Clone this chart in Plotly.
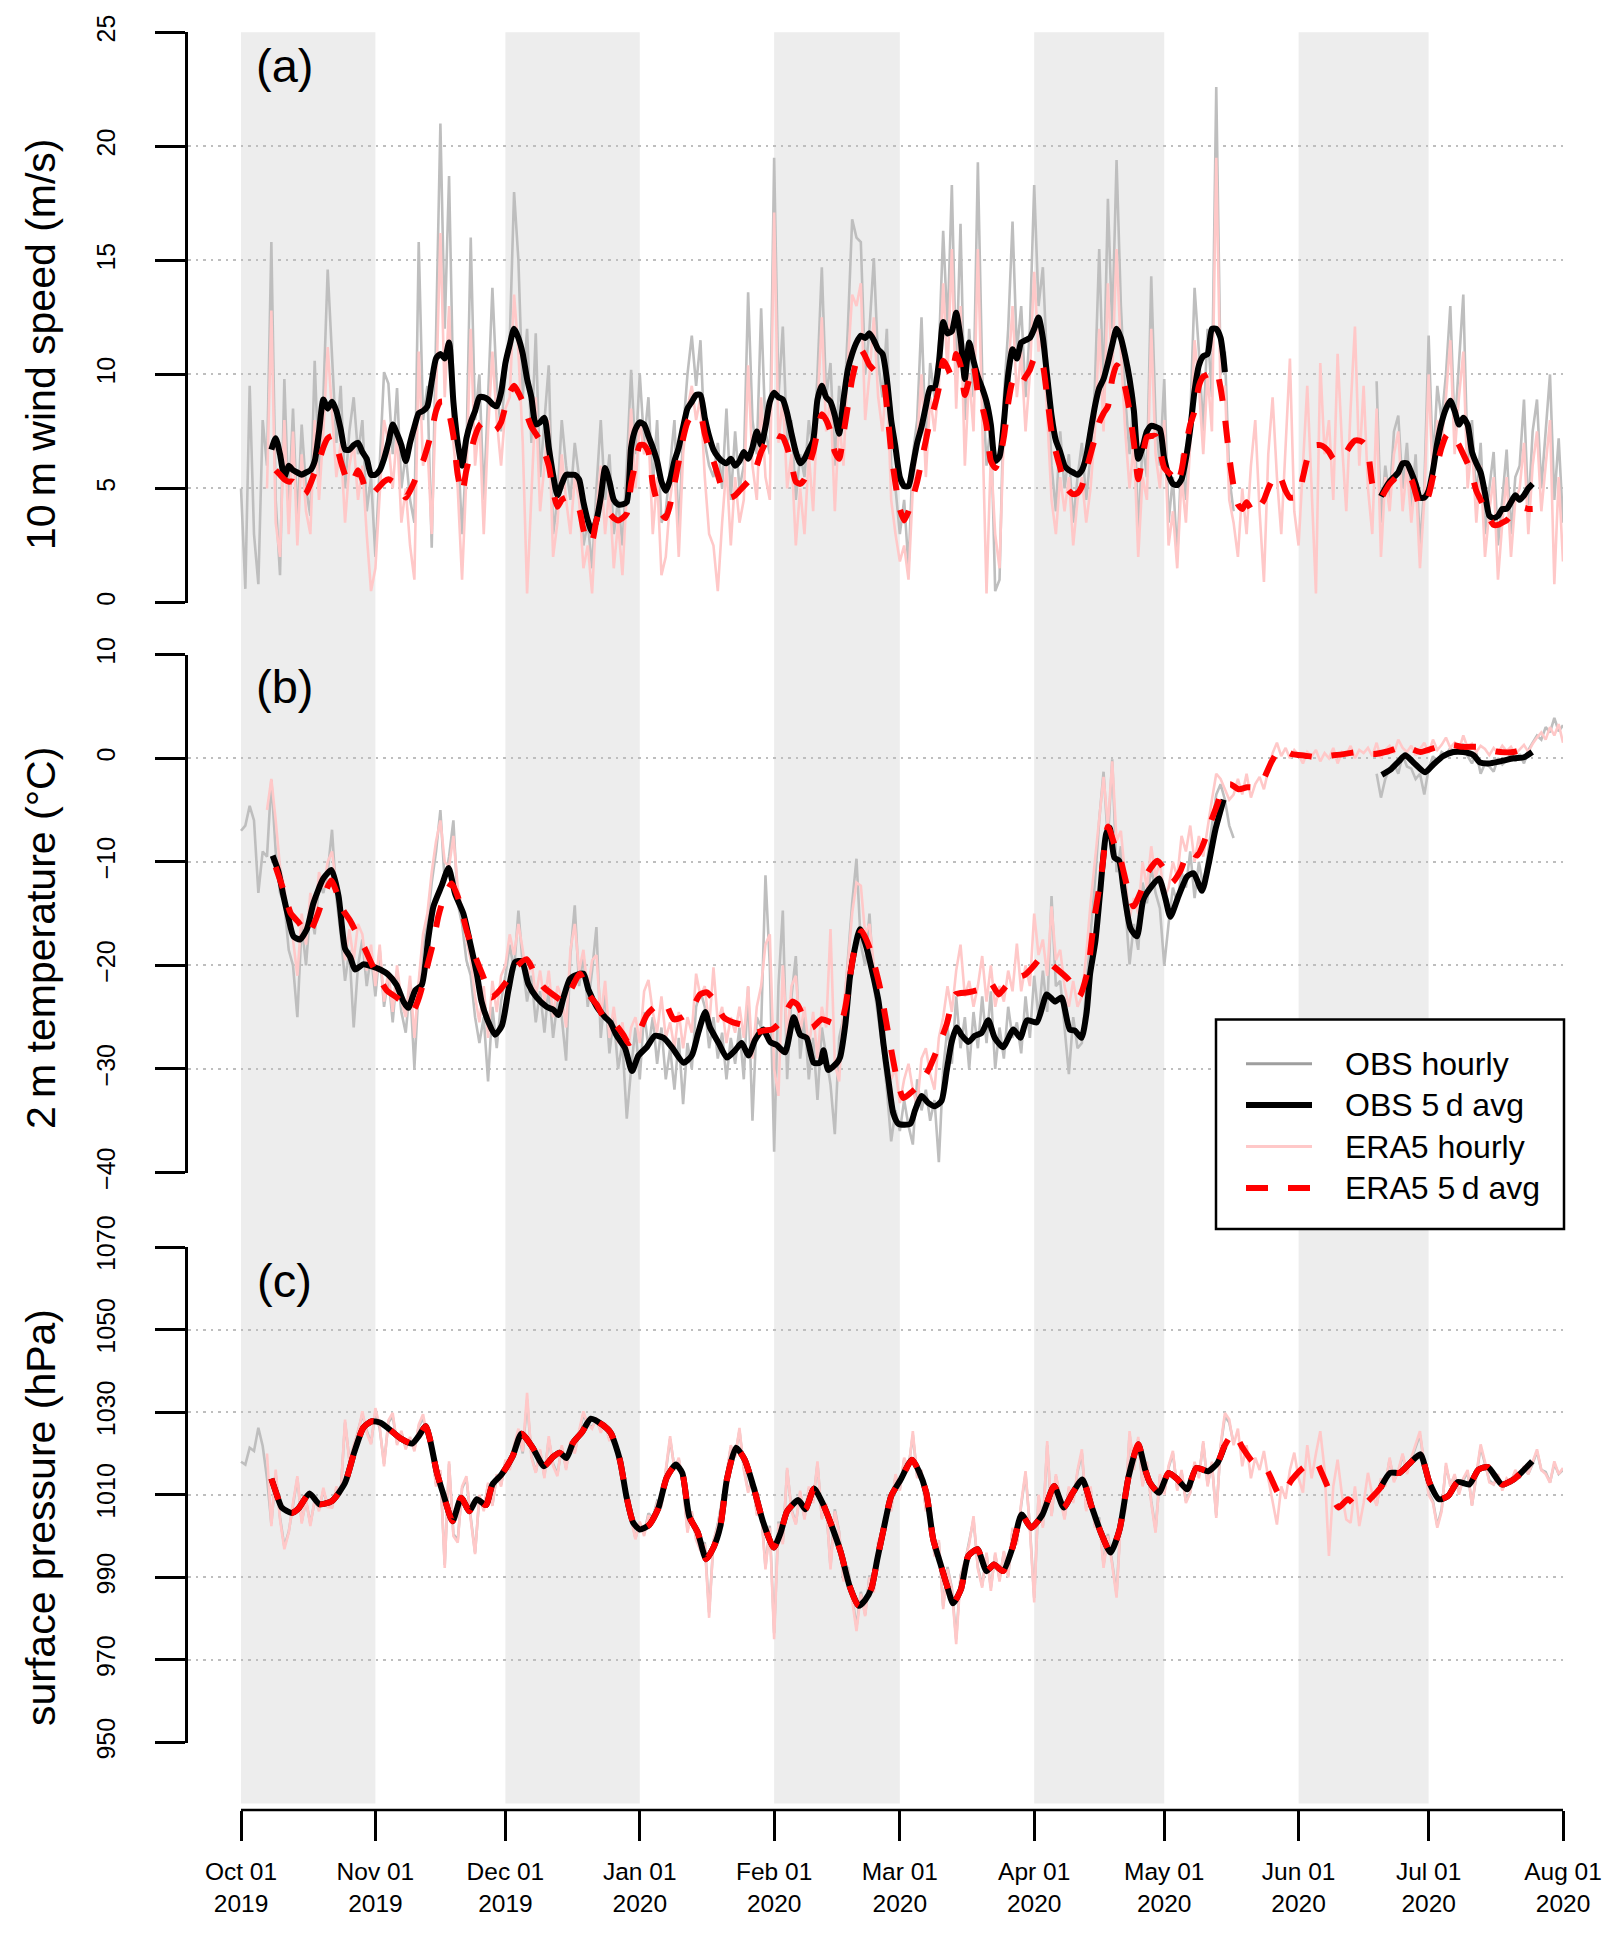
import datetime as dt
import plotly.graph_objects as go

BASE = dt.datetime(2019, 10, 1)

# ---------------- tick / band data ----------------
month_starts = ["2019-10-01", "2019-11-01", "2019-12-01", "2020-01-01", "2020-02-01", "2020-03-01",
                "2020-04-01", "2020-05-01", "2020-06-01", "2020-07-01", "2020-08-01"]
month_labels = ["Oct 01<br>2019", "Nov 01<br>2019", "Dec 01<br>2019", "Jan 01<br>2020", "Feb 01<br>2020",
                "Mar 01<br>2020", "Apr 01<br>2020", "May 01<br>2020", "Jun 01<br>2020", "Jul 01<br>2020",
                "Aug 01<br>2020"]
shaded_months = [("2019-10-01", "2019-11-01"), ("2019-12-01", "2020-01-01"), ("2020-02-01", "2020-03-01"),
                 ("2020-04-01", "2020-05-01"), ("2020-06-01", "2020-07-01")]

ws_ticks = [0, 5, 10, 15, 20, 25]
t2m_ticks = [-40, -30, -20, -10, 0, 10]
sp_ticks = [950, 970, 990, 1010, 1030, 1050, 1070]

# ---------------- (a) 10 m wind speed ----------------
# hourly series sampled once per day (day offset from 2019-10-01)
obs_ws_hr_start1 = 0
obs_ws_hr_1 = [
    5.0, 0.6, 9.5, 3.0, 0.8, 8.0, 6.0, 15.8, 4.5, 1.2,
    9.8, 4.0, 8.5, 3.5, 7.8, 5.0, 3.8, 10.6, 5.5, 9.0,
    14.6, 11.0, 7.0, 9.5, 5.0, 7.5, 9.0, 6.5, 8.0, 4.0,
    5.5, 2.0, 6.0, 10.1, 9.6, 6.5, 9.4, 5.0, 6.5, 4.5,
    3.5, 15.8, 8.0, 9.5, 2.4, 11.0, 21.0, 12.0, 18.7, 9.0,
    7.0, 3.0, 6.5, 16.0, 8.0, 10.0, 4.5, 9.0, 13.8, 9.5,
    7.5, 10.0, 11.5, 18.0, 15.0, 9.0, 12.0, 7.0, 11.8, 5.5,
    8.0, 10.4, 3.0, 4.5, 8.0, 6.0, 4.5, 7.0, 5.5, 2.5,
    3.5, 1.5, 5.0, 8.0, 4.5, 6.5, 3.0, 4.5, 2.5, 6.0,
    10.2, 6.5, 10.0, 7.0, 9.0, 5.0, 8.0, 3.5, 4.0, 6.0,
    8.0, 3.0, 7.5, 10.0, 11.7, 9.5, 11.5, 7.0, 6.0, 5.5,
    7.0, 5.0, 8.5, 4.5, 7.5, 5.0, 6.0, 13.6, 8.0, 6.5,
    12.9, 7.5, 6.5, 19.5, 9.0, 12.1, 7.0, 8.0, 4.5, 6.5,
    5.5, 8.0, 6.5, 10.0, 14.7, 9.0, 10.5, 6.0, 9.5, 8.0,
    12.0, 16.8, 16.0, 15.8, 10.0, 12.0, 15.1, 10.5, 9.0, 12.0,
    6.0, 5.0, 3.0, 4.5, 1.5, 6.5, 8.0, 12.5, 7.0, 10.5,
    9.0, 11.0, 16.3, 12.0, 18.3, 10.0, 16.6, 8.0, 12.0, 9.0,
    19.3, 10.0, 6.0, 8.0, 0.5, 1.0, 9.0, 12.0, 16.7, 11.0,
    13.0, 9.0, 12.0, 18.3, 13.0, 14.7, 10.0, 6.0, 4.0, 7.5,
    5.0, 6.5, 3.5, 5.5, 7.0, 4.5, 6.5, 9.5, 15.5, 9.0,
    17.7, 12.0, 19.4, 13.0, 9.0, 6.5, 9.0, 3.0, 7.0, 5.5,
    14.3, 8.0, 6.0, 9.8, 3.5, 5.5, 2.0, 6.5, 4.5, 8.0,
    13.8, 11.0, 7.5, 12.0, 9.0, 22.6, 10.0, 11.0, 5.5, 4.0]
obs_ws_hr_start2 = 262
obs_ws_hr_2 = [
    9.7, 3.5, 6.0, 4.5, 7.5, 8.2, 5.0, 7.0,
    4.0, 6.5, 2.5, 5.0, 11.7, 6.0, 9.5, 8.0, 10.0, 13.0,
    7.5, 10.5, 13.5, 6.0, 8.0, 4.5, 7.0, 3.0, 5.0, 6.6,
    2.5, 4.5, 6.7, 3.0, 5.5, 6.0, 8.9, 4.0, 7.5, 8.9,
    5.0, 7.5, 10.0, 4.5, 7.2, 3.5]
era5_ws_hr_start = 6
era5_ws_hr = [
    5.0, 12.8, 3.5, 2.0,
    8.0, 3.0, 7.5, 2.5, 6.5, 4.0, 3.0, 8.0, 4.5, 7.5,
    11.2, 8.5, 5.5, 7.0, 3.5, 6.0, 7.0, 4.5, 6.0, 3.0,
    0.5, 1.5, 5.0, 8.0, 7.0, 5.0, 7.5, 3.5, 5.0, 2.5,
    1.0, 11.0, 6.0, 7.0, 3.0, 9.0, 16.2, 9.0, 13.0, 7.0,
    5.0, 1.0, 5.5, 12.0, 6.0, 8.0, 3.0, 7.5, 11.0, 8.0,
    6.0, 8.5, 9.0, 13.5, 11.0, 7.0, 0.4, 5.0, 9.0, 4.0,
    6.0, 8.0, 2.0, 3.5, 6.5, 4.5, 3.0, 5.5, 4.5, 1.5,
    2.5, 0.4, 4.0, 6.0, 3.0, 5.0, 1.5, 3.5, 1.2, 5.0,
    8.5, 5.0, 8.0, 6.5, 7.5, 3.0, 5.5, 1.2, 2.0, 4.5,
    6.0, 2.0, 6.5, 8.5, 9.5, 8.0, 9.0, 5.5, 3.0, 2.5,
    0.5, 3.5, 6.0, 2.5, 5.5, 3.5, 4.5, 10.4, 6.0, 4.5,
    9.0, 5.5, 4.5, 17.1, 7.0, 9.0, 5.0, 6.5, 2.5, 5.0,
    3.0, 6.5, 4.0, 8.5, 12.5, 7.5, 9.0, 4.0, 8.0, 6.0,
    10.5, 13.5, 13.0, 14.0, 8.0, 10.0, 12.5, 9.0, 7.5, 10.0,
    4.5, 3.0, 1.8, 2.5, 1.0, 5.0, 7.0, 10.0, 5.5, 9.0,
    7.5, 9.5, 14.0, 10.0, 15.5, 8.5, 13.0, 6.0, 10.0, 7.5,
    15.5, 8.0, 0.4, 6.5, 3.0, 1.5, 7.5, 10.0, 13.0, 9.0,
    11.0, 7.5, 10.0, 14.5, 11.0, 12.0, 8.0, 4.5, 3.0, 5.5,
    4.0, 5.5, 2.5, 4.5, 5.5, 3.5, 5.0, 7.5, 12.0, 7.5,
    14.0, 10.0, 15.5, 11.0, 7.5, 5.0, 7.0, 2.0, 5.5, 4.5,
    12.0, 6.5, 5.0, 8.0, 2.5, 4.0, 1.5, 5.5, 3.5, 7.0,
    11.5, 9.5, 6.5, 10.0, 7.5, 19.5, 9.0, 9.5, 4.5, 3.5,
    2.0, 5.0, 3.0, 6.0, 8.0, 4.0, 0.9, 6.5, 9.0, 5.5,
    3.0, 7.0, 10.7, 4.0, 2.5, 6.0, 9.5, 5.0, 0.4, 10.5,
    6.5, 8.0, 4.5, 10.9, 7.0, 4.0, 8.5, 12.1, 6.0, 9.5,
    5.0, 3.0, 8.5, 2.0, 5.5, 4.0, 6.5, 7.5, 4.0, 6.0,
    3.5, 5.5, 1.5, 4.5, 10.0, 5.0, 8.0, 7.0, 9.0, 11.5,
    6.5, 9.0, 11.0, 5.0, 7.0, 3.5, 6.0, 2.0, 4.0, 5.5,
    1.0, 3.5, 5.5, 2.0, 4.5, 5.0, 7.0, 3.0, 6.0, 7.5,
    4.0, 6.0, 8.0, 0.8, 5.5, 1.8]
obs_ws_5d_start1 = 7
obs_ws_5d_1 = [
    6.7, 7.2, 6.5, 5.5, 6.0, 5.8, 5.7, 5.6, 5.7, 5.8,
    6.2, 7.5, 8.9, 8.5, 8.8, 8.4, 7.6, 6.7, 6.7, 6.9,
    7.0, 6.6, 6.3, 5.6, 5.6, 5.8, 6.3, 7.0, 7.8, 7.4,
    6.9, 6.2, 7.0, 7.7, 8.3, 8.4, 8.6, 9.7, 10.7, 10.9,
    10.7, 11.4, 8.8, 7.0, 6.0, 7.2, 7.9, 8.4, 9.0, 9.0,
    8.9, 8.7, 8.6, 9.2, 10.5, 11.3, 12.0, 11.6, 10.9, 9.8,
    9.0, 7.8, 7.9, 8.1, 6.8, 5.6, 4.7, 5.2, 5.6, 5.6,
    5.6, 5.4, 4.4, 3.6, 3.1, 3.6, 4.6, 5.9, 5.3, 4.5,
    4.3, 4.3, 4.4, 6.8, 7.6, 7.9, 7.8, 7.3, 6.8, 6.2,
    5.3, 4.9, 5.4, 6.2, 6.8, 7.7, 8.5, 8.8, 9.1, 9.1,
    8.1, 7.3, 6.7, 6.4, 6.2, 6.1, 6.3, 6.0, 6.2, 6.6,
    6.3, 6.8, 7.5, 6.9, 7.7, 8.8, 9.2, 9.0, 8.9, 8.3,
    7.4, 6.6, 6.1, 6.3, 6.7, 7.1, 8.9, 9.5, 9.0, 8.8,
    8.2, 7.4, 8.9, 10.2, 10.9, 11.4, 11.7, 11.6, 11.8, 11.5,
    11.1, 10.9, 9.8, 8.0, 6.8, 5.5, 5.1, 5.1, 6.0, 7.0,
    7.7, 8.6, 9.4, 9.4, 10.5, 12.3, 11.8, 11.9, 12.7, 11.6,
    9.8, 11.4, 10.6, 9.9, 9.4, 8.8, 7.8, 6.2, 6.4, 7.9,
    10.0, 11.1, 10.7, 11.4, 11.5, 11.6, 12.0, 12.5, 11.6, 9.9,
    8.2, 7.1, 6.6, 6.0, 5.8, 5.7, 5.6, 5.8, 6.4, 7.5,
    8.6, 9.4, 9.8, 10.5, 11.3, 12.0, 11.6, 10.8, 9.8, 8.4,
    6.3, 6.8, 7.5, 7.75, 7.7, 7.6, 6.3, 5.6, 5.2, 5.15,
    5.4, 6.3, 7.6, 9.3, 10.4, 10.8, 10.9, 12.0, 12.0, 11.6,
    10.1]
obs_ws_5d_start2 = 263
obs_ws_5d_2 = [
    4.65, 5.0, 5.3, 5.5, 5.7, 6.1, 6.1, 5.7, 5.2, 4.6,
    4.6, 4.9, 5.8, 7.0, 7.9, 8.5, 8.85, 8.4, 7.8, 8.1,
    7.8, 6.6, 6.1, 5.7, 4.8, 3.8, 3.7, 3.8, 4.1, 4.1,
    4.4, 4.7, 4.5, 4.7, 5.0, 5.2]
era5_ws_5d_start = 8
era5_ws_5d = [
    5.8, 5.6,
    5.4, 5.3, 5.3, 5.0, 4.7, 4.8, 5.2, 5.7, 6.2, 6.8,
    7.2, 7.3, 6.9, 6.2, 5.6, 5.2, 5.4, 5.8, 5.4, 4.8,
    4.7, 4.9, 5.1, 5.3, 5.4, 5.3, 5.1, 4.9, 4.6, 4.9,
    5.3, 5.8, 6.2, 6.8, 7.5, 8.4, 8.8, 8.8, 8.3, 7.3,
    5.6, 4.8, 5.8, 6.6, 7.3, 7.75, 7.9, 7.8, 7.5, 7.6,
    7.9, 8.6, 9.2, 9.5, 9.2, 8.8, 8.2, 7.7, 7.4, 7.1,
    6.6, 6.0, 4.9, 4.2, 4.5, 4.6, 4.5, 4.3, 4.1, 3.2,
    2.6, 2.7, 3.6, 4.1, 4.0, 3.9, 3.7, 3.6, 3.7, 3.9,
    5.2, 6.1, 6.9, 6.9, 6.6, 5.2, 4.4, 3.9, 3.7, 4.3,
    5.2, 6.2, 7.2, 7.9, 8.2, 8.2, 8.2, 7.4, 6.7, 6.2,
    5.6, 5.0, 4.7, 4.6, 4.7, 4.9, 5.1, 5.3, 5.5, 6.0,
    6.6, 7.0, 7.4, 7.4, 7.3, 7.25, 6.8, 6.1, 5.3, 5.2,
    5.4, 6.0, 6.6, 7.5, 8.25, 8.0, 7.5, 6.6, 6.3, 7.4,
    8.6, 9.8, 10.6, 11.1, 10.8, 10.4, 10.2, 10.0, 9.9, 8.6,
    6.6, 5.2, 4.1, 3.6, 4.0, 4.6, 5.3, 6.2, 7.1, 8.0,
    8.6, 9.4, 10.6, 10.3, 9.9, 10.9, 10.4, 9.1, 9.8, 10.4,
    9.2, 8.6, 7.75, 6.2, 5.9, 6.3, 7.25, 8.75, 9.7, 9.9,
    9.6, 9.9, 10.2, 10.7, 10.8, 10.4, 9.0, 7.5, 6.6, 5.9,
    5.2, 4.9, 4.75, 4.8, 5.1, 5.8, 6.5, 7.2, 7.9, 8.3,
    8.6, 9.8, 10.4, 10.2, 9.4, 8.4, 7.0, 5.4, 6.4, 7.25,
    7.3, 7.3, 6.7, 5.9, 5.7, 5.5, 5.2, 5.8, 6.9, 7.8,
    8.4, 9.5, 9.9, 10.0, 10.1, 10.2, 9.4, 8.1, 6.4, 5.1,
    4.3, 4.1, 4.4, 4.1, 3.9, 4.2, 4.5, 5.0, 5.4, 5.65,
    5.4, 4.9, 4.6, 4.6, 4.7, 5.5, 6.3, 6.8, 6.9, 6.9,
    6.8, 6.6, 6.3, 6.2, 6.4, 6.6, 6.9, 7.1, 7.1, 7.0,
    6.6, 5.2, 4.7, 4.6, 4.9, 5.2, 5.4, 5.6, 5.65, 5.5,
    5.4, 4.8, 4.2, 4.3, 4.7, 5.5, 6.1, 6.8, 7.3, 7.5,
    7.2, 6.9, 6.5, 6.1, 5.6, 4.9, 4.5, 4.1, 3.7, 3.4,
    3.4, 3.5, 3.6, 3.8, 3.9, 4.0, 4.15, 4.1, 4.1]

# ---------------- (b) 2 m temperature ----------------
obs_t2m_hr_start1 = 0
obs_t2m_hr_1 = [
    -7.0, -6.5, -4.6, -6.0, -13.0, -9.0, -9.5, -2.1, -9.0, -13.0,
    -14.0, -18.5, -20.0, -25.0, -16.0, -20.0, -14.5, -17.0, -12.0, -13.0,
    -11.0, -6.9, -13.5, -17.0, -21.5, -18.5, -26.0, -20.0, -17.5, -22.0,
    -19.0, -23.0, -18.5, -24.0, -21.0, -25.5, -20.5, -24.5, -26.5, -22.0,
    -29.9, -22.0, -18.0, -16.0, -12.0, -9.0, -5.0, -12.0, -9.5, -6.0,
    -14.0, -16.0, -19.5, -21.0, -25.0, -27.5, -25.0, -31.2, -24.0, -28.0,
    -23.5, -21.0, -18.0, -20.5, -14.7, -20.0, -23.5, -21.0, -25.5, -22.5,
    -26.5, -22.0, -27.0, -23.5, -25.0, -29.2, -19.0, -14.2, -22.0, -19.0,
    -24.0, -20.5, -16.3, -27.0, -22.5, -28.5, -25.0, -30.0, -27.5, -34.8,
    -30.0, -26.0, -31.0, -24.5, -28.0, -25.0, -29.5, -26.0, -31.0, -28.0,
    -32.0, -27.0, -33.4, -27.5, -30.0, -24.0, -22.5, -24.0, -28.0, -25.0,
    -29.0, -26.5, -31.0, -27.0, -29.5, -26.0, -31.0, -22.1, -35.0, -25.0,
    -26.0, -11.3, -20.0, -38.0, -22.0, -14.7, -31.0, -23.0, -19.1, -29.0,
    -25.0, -31.0, -27.0, -33.0, -26.0, -29.0, -31.5, -36.3, -27.0, -25.0,
    -19.0, -14.0, -9.7, -18.0, -20.0, -15.0, -22.0, -25.0, -28.0, -32.0,
    -37.0, -34.0, -36.0, -33.0, -35.5, -37.3, -31.0, -34.0, -32.0, -35.0,
    -33.0, -39.0, -30.0, -26.0, -29.5, -23.0, -28.0, -25.0, -30.0, -24.5,
    -28.0, -23.0, -27.5, -22.5, -30.0, -26.0, -29.0, -24.0, -27.0, -25.5,
    -28.5, -23.0, -27.0, -21.0, -25.0, -20.5, -24.5, -13.3, -22.0, -21.5,
    -26.0, -30.5, -25.0, -28.0, -27.5, -22.0, -17.0, -12.0, -6.0, -1.3,
    -8.0, -0.1, -11.0, -8.5, -14.0, -19.9, -16.0, -18.5, -12.0, -14.0,
    -10.5, -13.0, -14.5, -20.0, -16.0, -12.5, -14.0, -11.0, -12.5, -9.0,
    -13.5, -10.0, -12.5, -9.5, -6.0, -3.5, -2.5, -4.0, -6.5, -7.7]
obs_t2m_hr_start2 = 262
obs_t2m_hr_2 = [
    -1.5, -3.8, -2.0, -1.0, -0.5, -1.5, 0.3, -0.8,
    -1.0, -2.0, -1.5, -3.5, -1.0, 0.2, -0.5, 0.6, 0.3, 1.0,
    0.5, 0.8, 1.4, 0.2, -0.5, 0.5, -1.5, -0.5, -0.8, -1.3,
    0.0, -0.6, -0.2, 0.5, -0.3, 0.4, -0.5, 0.8, 1.5, 2.2,
    1.8, 3.0, 2.5, 3.9, 2.6, 3.2]
era5_t2m_hr_start = 6
era5_t2m_hr = [
    -5.0, -2.0, -6.0, -10.5,
    -12.5, -16.0, -17.5, -21.0, -15.0, -18.0, -13.0, -15.5, -11.0, -12.5,
    -10.0, -9.0, -12.5, -15.5, -19.5, -16.5, -19.5, -16.0, -17.0, -20.5,
    -18.0, -22.0, -18.0, -23.5, -20.5, -24.5, -20.0, -23.5, -25.0, -21.0,
    -27.0, -21.5, -17.0, -15.0, -11.0, -8.0, -6.0, -10.0, -10.5, -7.5,
    -12.5, -14.5, -17.5, -19.5, -23.0, -25.5, -22.0, -27.0, -21.5, -24.5,
    -21.0, -20.0, -17.0, -19.0, -16.0, -18.5, -21.5, -19.5, -23.0, -20.5,
    -23.5, -20.5, -25.0, -22.0, -23.0, -26.0, -18.5, -16.0, -20.5, -18.5,
    -22.5, -19.5, -19.0, -25.0, -21.5, -27.0, -24.0, -27.5, -25.5, -29.0,
    -26.0, -25.0, -27.5, -22.5, -21.4, -24.5, -26.5, -23.0, -27.0, -25.5,
    -28.0, -24.5, -28.0, -25.0, -26.5, -20.8, -23.0, -22.0, -26.0, -20.2,
    -25.5, -24.0, -27.5, -25.0, -26.5, -24.0, -27.0, -22.0, -29.0, -24.0,
    -22.0, -18.0, -17.0, -30.0, -32.6, -20.0, -27.0, -22.0, -21.0, -26.5,
    -24.0, -28.0, -24.5, -29.0, -24.0, -26.0, -16.5, -29.5, -31.2, -24.0,
    -20.0, -15.0, -12.0, -12.3, -17.0, -16.0, -20.0, -22.5, -26.0, -29.5,
    -31.0, -30.0, -33.3, -31.0, -29.5, -32.0, -33.6, -29.0, -28.0, -30.5,
    -32.0, -27.0, -25.0, -22.0, -24.5, -20.5, -18.0, -23.0, -21.5, -24.0,
    -22.0, -19.1, -23.5, -20.0, -24.0, -22.0, -23.5, -20.5, -22.5, -17.9,
    -22.5, -20.0, -22.0, -15.0, -19.0, -17.5, -21.0, -14.3, -19.5, -18.5,
    -22.0, -24.0, -21.5, -24.0, -23.0, -19.0, -14.0, -10.0, -6.0, -1.8,
    -6.5, -0.3, -8.0, -7.0, -11.5, -15.5, -13.5, -15.0, -10.0, -12.5,
    -8.5, -11.5, -10.0, -13.5, -12.5, -10.0, -11.5, -7.5, -9.0, -6.5,
    -10.0, -7.5, -9.5, -6.5, -4.0, -1.5, -2.0, -3.0, -4.0, -3.5,
    -2.0, -3.5, -1.5, -3.8, -2.5, -1.8, -3.0, -1.2, 0.5, 1.5,
    0.2, 1.0, 0.0, 0.8, 0.3, -0.5, 0.6, 0.2, 0.8, -0.3,
    0.5, 0.0, 1.0, -0.5, 0.6, 0.3, 1.2, 0.0, 0.8, 0.5,
    1.0, 0.2, 1.5, 0.0, 0.8, 1.2, 0.5, 1.8, 1.0, 0.6,
    1.2, 0.3, 0.9, 1.5, 0.5, 1.8, 0.8, 1.3, 2.0, 1.0,
    1.5, 0.8, 2.2, 1.0, 1.4, 0.6, 1.2, 0.9, 0.3, 1.0,
    0.5, 1.2, 0.7, 1.1, 0.4, 0.9, 1.3, 0.6, 1.4, 2.0,
    2.5, 1.8, 3.0, 2.2, 3.3, 1.5]
# 5-day averages as (day offset, value) pairs
obs_t2m_5d_1 = [
    (7.3, -9.4), (8.6, -10.9), (9.8, -13.3), (10.9, -15.3), (12.1, -17.2), (13.6, -17.5), (15.2, -16.5),
    (16.7, -14.0), (19.0, -11.6), (20.9, -10.8), (22.5, -13.3), (24.0, -18.4), (25.2, -19.2), (26.3, -20.4),
    (28.2, -19.9), (30.2, -20.1), (32.1, -20.4), (34.0, -20.9), (35.9, -21.9), (37.5, -23.5), (38.6, -24.1),
    (40.2, -22.4), (41.7, -21.9), (43.2, -17.4), (44.4, -14.3), (46.3, -12.3), (47.9, -10.6), (49.4, -13.1),
    (51.3, -15.0), (52.8, -17.7), (54.4, -20.8), (55.5, -23.5), (57.1, -25.5), (58.6, -26.7), (60.2, -25.8),
    (61.7, -22.4), (63.2, -19.7), (64.8, -19.6), (66.3, -21.8), (68.2, -23.1), (70.5, -24.0), (72.1, -24.3),
    (73.2, -24.8), (74.4, -23.1), (75.9, -21.3), (77.5, -20.9), (79.0, -20.8), (80.2, -22.4), (82.1, -24.0),
    (84.0, -25.0), (85.2, -25.5), (86.7, -26.8), (88.6, -28.0), (90.2, -30.2), (91.7, -28.7), (93.6, -27.9),
    (95.5, -26.8), (97.5, -27.0), (99.4, -27.9), (102.1, -29.4), (104.0, -28.7), (105.5, -26.5), (107.1, -24.5),
    (108.2, -26.0), (110.2, -27.5), (112.1, -28.9), (114.0, -28.2), (115.5, -27.5), (117.1, -28.7), (118.6, -27.2),
    (120.5, -26.2), (122.1, -27.4), (123.6, -27.7), (125.5, -28.4), (127.5, -25.0), (129.0, -26.7), (130.5, -27.0),
    (132.1, -29.4), (133.6, -29.4), (134.4, -28.2), (135.5, -30.1), (137.5, -29.4), (138.2, -28.9), (139.4, -25.8),
    (140.5, -21.1), (141.6, -18.4), (142.8, -16.5), (144.4, -18.4), (145.9, -21.1), (147.1, -23.5), (148.2, -27.5),
    (149.4, -31.2), (150.5, -34.3), (151.7, -35.3), (154.4, -35.3), (155.5, -34.0), (157.0, -32.6), (158.6, -33.3),
    (160.1, -33.6), (161.6, -33.1), (162.8, -30.2), (163.9, -27.5), (165.1, -26.0), (166.2, -26.7), (167.8, -27.4),
    (169.3, -26.8), (170.9, -26.5), (172.4, -25.3), (173.9, -27.0), (175.8, -27.9), (178.2, -26.2), (179.8, -27.0),
    (181.3, -25.3), (183.6, -25.5), (185.9, -22.8), (187.8, -23.5), (189.3, -23.1), (191.2, -26.2), (192.4, -26.3),
    (193.9, -27.0), (195.1, -24.5), (195.9, -20.8), (197.1, -17.7), (198.2, -13.0), (199.6, -7.3), (200.4, -6.7),
    (201.5, -9.6), (202.6, -9.9), (203.6, -12.6), (205.2, -16.4), (206.7, -17.2), (208.2, -13.6), (210.2, -12.3),
    (211.8, -11.6), (213.3, -13.6), (214.4, -15.3), (216.3, -13.3), (218.3, -11.4), (219.8, -11.1), (221.7, -12.8),
    (223.2, -10.3), (224.8, -6.9), (226.7, -4.0)]
obs_t2m_5d_2 = [
    (263.2, -1.6), (265.2, -1.1), (267.1, -0.3), (268.6, 0.3), (270.5, -0.4), (273.2, -1.35), (275.1, -0.6),
    (277.3, 0.2), (279.7, 0.6), (282.0, 0.6), (284.4, 0.3), (285.8, -0.4), (287.8, -0.5), (290.5, -0.3),
    (293.6, 0.0), (296.0, 0.1), (297.9, 0.6)]
era5_t2m_5d = [
    (8.0, -10.5), (10.0, -13.0), (11.5, -15.0), (13.2, -15.8), (15.5, -17.0), (17.5, -15.3), (19.4, -13.0),
    (20.8, -11.8), (22.3, -13.2), (23.6, -14.7), (25.2, -15.7), (26.8, -17.0), (28.6, -18.4), (30.2, -19.9),
    (32.0, -21.3), (33.6, -22.4), (35.9, -23.1), (38.0, -23.8), (39.8, -24.3), (41.3, -22.8), (43.2, -19.7),
    (44.4, -17.7), (45.5, -15.3), (46.7, -13.6), (48.6, -12.1), (50.2, -13.6), (52.1, -16.7), (54.0, -19.1),
    (55.9, -21.1), (57.8, -23.1), (59.7, -22.4), (61.7, -21.3), (63.6, -20.1), (65.9, -19.4), (67.8, -20.8),
    (69.8, -22.1), (72.9, -23.1), (74.4, -23.5), (76.4, -22.1), (78.2, -20.8), (80.2, -22.8), (82.1, -23.8),
    (84.0, -25.2), (85.9, -25.5), (88.2, -26.7), (89.4, -27.5), (91.0, -27.0), (92.1, -26.2), (93.6, -24.8),
    (95.5, -24.0), (97.8, -23.6), (99.8, -25.2), (101.8, -25.0), (103.9, -24.3), (105.9, -22.8), (107.5, -22.6),
    (109.4, -23.5), (111.3, -25.0), (113.5, -25.5), (116.2, -25.8), (118.6, -26.5), (120.5, -26.3), (122.5, -26.2),
    (124.4, -25.5), (127.2, -23.5), (128.4, -23.8), (130.0, -25.2), (131.7, -26.0), (134.0, -25.2), (136.0, -25.5),
    (138.2, -25.8), (139.4, -24.1), (140.5, -21.1), (141.6, -18.4), (143.2, -16.7), (145.1, -18.4), (147.4, -22.1),
    (149.3, -26.5), (151.3, -30.9), (152.8, -32.8), (154.5, -32.3), (156.3, -31.6), (158.6, -30.1), (161.3, -27.4),
    (162.8, -25.7), (164.8, -22.8), (167.8, -22.6), (170.5, -22.3), (172.8, -21.6), (174.8, -22.8), (176.5, -22.0),
    (178.2, -21.3), (180.9, -20.9), (183.0, -20.0), (184.8, -19.2), (187.5, -20.1), (191.0, -21.4), (193.4, -23.0),
    (195.3, -20.6), (196.8, -15.7), (198.6, -10.9), (200.0, -6.6), (201.5, -8.3), (202.8, -9.6), (204.4, -12.3),
    (205.9, -14.3), (207.5, -13.0), (209.1, -11.1), (211.4, -9.9), (213.3, -10.9), (214.8, -12.0), (216.7, -10.9),
    (218.7, -8.9), (220.6, -9.4), (222.1, -8.2), (223.7, -6.2), (225.2, -4.5), (226.7, -2.8), (228.2, -2.5),
    (230.2, -3.0), (232.1, -2.8), (234.0, -2.8), (235.9, -2.0), (237.8, -0.3), (239.8, 0.9), (242.5, 0.4),
    (245.5, 0.25), (248.2, 0.1), (251.3, 0.25), (254.4, 0.4), (257.5, 0.6), (261.3, 0.4), (264.5, 0.65),
    (268.3, 1.15), (272.1, 0.6), (276.0, 1.1), (279.0, 1.3), (282.0, 1.1), (285.8, 1.1), (289.7, 0.65),
    (293.6, 0.6), (297.4, 1.1)]

# ---------------- (c) surface pressure ----------------
obs_sp_hr_start1 = 0
obs_sp_hr_1 = [
    1018.0, 1017.3, 1021.4, 1020.6, 1026.2, 1021.8, 1014.0, 1003.0, 1015.0, 1004.5,
    997.5, 1001.0, 1007.5, 1014.0, 1003.5, 1008.5, 1003.0, 1008.5, 1006.5, 1011.0,
    1007.5, 1007.0, 1011.5, 1010.5, 1027.5, 1018.5, 1021.5, 1025.5, 1029.5, 1025.5,
    1022.5, 1030.0, 1026.0, 1017.5, 1027.5, 1029.0, 1022.5, 1025.0, 1021.5, 1023.5,
    1021.0, 1026.5, 1028.5, 1024.5, 1021.5, 1012.5, 1015.5, 993.0, 1017.5, 1000.5,
    999.0, 1011.5, 1014.0, 1004.5, 996.0, 1009.5, 1006.5, 1012.5, 1007.5, 1014.5,
    1012.5, 1018.0, 1016.5, 1021.5, 1025.5, 1020.0, 1033.0, 1019.5, 1015.5, 1020.5,
    1014.5, 1023.5, 1017.5, 1015.0, 1021.5, 1016.5, 1022.5, 1020.5, 1025.0, 1029.5,
    1027.0, 1026.5, 1028.0, 1025.5, 1027.0, 1023.5, 1024.5, 1018.5, 1014.5, 1008.0,
    1004.5, 999.5, 1003.0, 1000.5, 1005.5, 1004.5, 1008.5, 1007.5, 1015.5, 1023.5,
    1016.5, 1018.5, 1012.5, 1001.5, 1005.5, 999.5, 997.0, 998.5, 981.5, 998.5,
    1003.0, 1008.5, 1014.5, 1021.5, 1019.5, 1025.5, 1016.5, 1011.0, 1013.5, 1005.5,
    1006.5, 992.5, 1002.5, 976.5, 1003.5, 998.5, 1016.0, 1006.5, 1003.0, 1010.5,
    1004.5, 1011.5, 1008.5, 1017.5, 1004.5, 1007.5, 992.5, 1006.5, 1001.0, 989.5,
    992.5, 985.5, 978.0, 986.5, 981.0, 990.5, 987.0, 998.5, 998.5, 1007.5,
    1006.5, 1014.5, 1011.5, 1018.5, 1016.5, 1024.5, 1014.5, 1015.5, 1006.5, 1007.5,
    995.5, 998.5, 983.0, 992.5, 987.5, 975.0, 990.5, 993.5, 998.5, 1004.0,
    992.5, 988.0, 995.5, 987.5, 995.5, 989.5, 996.0, 990.5, 1001.5, 998.5,
    1007.5, 1015.0, 1002.5, 985.0, 1009.5, 1002.5, 1022.0, 1005.0, 1014.5, 1009.5,
    1004.5, 1011.5, 1008.5, 1015.5, 1020.0, 1006.5, 1011.5, 1002.5, 1004.5, 993.0,
    1000.5, 993.5, 986.0, 1004.5, 1006.5, 1024.5, 1016.5, 1023.5, 1012.5, 1017.5,
    1008.5, 1001.5, 1014.5, 1010.5, 1016.5, 1020.0, 1011.5, 1015.5, 1008.5, 1010.5,
    1017.5, 1014.5, 1022.5, 1012.5, 1017.5, 1005.0, 1021.5, 1029.0, 1027.5, 1022.5]
obs_sp_hr_start2 = 262
obs_sp_hr_2 = [
    1007.5, 1013.5, 1012.5, 1018.5, 1013.5, 1015.5, 1019.5, 1015.5,
    1018.5, 1021.5, 1024.5, 1017.5, 1010.5, 1008.5, 1002.5, 1006.5, 1017.0, 1012.5,
    1014.5, 1010.5, 1013.5, 1015.5, 1007.5, 1014.5, 1021.5, 1017.5, 1013.5, 1012.5,
    1014.5, 1011.5, 1013.5, 1013.5, 1015.5, 1014.0, 1016.5, 1015.0, 1017.5, 1020.5,
    1016.0, 1015.5, 1013.0, 1017.5, 1015.0, 1016.0]
era5_sp_hr_start = 6
era5_sp_hr = [
    1020.0, 1002.4, 1016.1, 1004.0,
    996.8, 1000.8, 1008.0, 1014.5, 1003.0, 1009.0, 1002.4, 1009.0, 1006.0, 1011.7,
    1007.0, 1006.9, 1012.0, 1010.0, 1028.2, 1018.0, 1022.0, 1025.0, 1030.2, 1025.0,
    1022.2, 1031.0, 1026.5, 1016.9, 1028.0, 1029.8, 1022.0, 1025.5, 1021.0, 1024.0,
    1020.5, 1027.0, 1029.5, 1024.0, 1021.0, 1012.0, 1016.0, 992.3, 1018.1, 1000.0,
    998.4, 1012.0, 1014.5, 1004.0, 995.6, 1010.0, 1006.0, 1012.9, 1007.3, 1015.0,
    1012.0, 1018.5, 1016.0, 1022.0, 1026.0, 1020.5, 1034.7, 1019.0, 1015.3, 1021.0,
    1014.0, 1024.2, 1017.0, 1014.5, 1022.0, 1016.0, 1023.0, 1020.0, 1025.5, 1030.2,
    1027.0, 1026.0, 1028.6, 1025.0, 1027.5, 1023.0, 1025.0, 1018.0, 1015.0, 1007.3,
    1004.0, 999.2, 1003.5, 1000.0, 1005.0, 1004.0, 1008.0, 1007.0, 1016.0, 1024.2,
    1016.0, 1019.0, 1012.0, 1000.8, 1006.0, 999.0, 996.4, 998.0, 980.2, 999.0,
    1002.4, 1008.0, 1015.0, 1022.0, 1019.0, 1026.2, 1016.0, 1010.5, 1014.0, 1005.0,
    1006.0, 991.9, 1002.0, 975.0, 1003.0, 998.0, 1016.5, 1006.0, 1002.8, 1011.0,
    1004.0, 1012.0, 1008.0, 1018.1, 1004.0, 1008.0, 991.9, 1006.0, 1000.8, 989.0,
    992.0, 985.0, 977.0, 986.0, 980.6, 990.0, 986.3, 999.0, 998.0, 1008.0,
    1006.0, 1015.0, 1011.0, 1019.0, 1016.0, 1025.4, 1014.0, 1016.0, 1006.0, 1008.0,
    995.0, 999.0, 982.3, 992.0, 987.0, 973.8, 990.0, 994.0, 998.0, 1004.8,
    992.0, 987.5, 996.0, 986.7, 996.0, 989.0, 996.4, 990.0, 1002.0, 998.0,
    1008.0, 1015.7, 1002.0, 983.9, 1010.0, 1002.0, 1023.0, 1004.8, 1015.0, 1009.0,
    1004.0, 1012.0, 1008.0, 1016.0, 1021.0, 1006.0, 1012.0, 1002.0, 1004.0, 992.3,
    1000.0, 993.0, 985.1, 1004.0, 1006.0, 1025.4, 1016.0, 1024.0, 1012.0, 1018.0,
    1008.0, 1000.8, 1015.0, 1010.0, 1017.0, 1020.6, 1011.0, 1016.0, 1008.0, 1010.5,
    1018.0, 1014.0, 1023.0, 1012.0, 1018.0, 1004.4, 1022.0, 1029.8, 1028.2, 1022.0,
    1026.0, 1016.9, 1022.0, 1014.0, 1019.0, 1016.0, 1020.6, 1014.0, 1008.0, 1002.8,
    1012.0, 1009.0, 1016.0, 1020.2, 1014.0, 1010.5, 1022.0, 1014.0, 1020.0, 1025.4,
    1016.0, 995.2, 1012.0, 1018.5, 1010.0, 1004.0, 1003.2, 1012.0, 1002.4, 1008.0,
    1015.3, 1010.0, 1007.3, 1014.0, 1012.0, 1019.0, 1013.0, 1016.0, 1020.0, 1015.0,
    1019.0, 1022.0, 1025.4, 1017.0, 1010.0, 1008.0, 1002.0, 1006.0, 1017.7, 1012.0,
    1015.0, 1010.0, 1014.0, 1016.0, 1007.3, 1015.0, 1022.2, 1018.0, 1013.0, 1012.5,
    1015.0, 1011.0, 1014.0, 1013.0, 1016.0, 1014.0, 1017.0, 1015.0, 1018.0, 1021.0,
    1016.0, 1015.0, 1012.9, 1018.1, 1015.0, 1016.5]
obs_sp_5d_1 = [
    (7.0, 1013.9), (8.1, 1010.5), (9.4, 1006.9), (11.7, 1005.6), (13.2, 1006.6), (15.8, 1010.3), (18.1, 1007.7),
    (21.0, 1008.5), (24.0, 1012.9), (26.1, 1020.2), (28.2, 1026.2), (30.2, 1027.8), (32.3, 1027.4), (34.3, 1025.8),
    (36.9, 1023.6), (39.5, 1022.4), (41.0, 1024.2), (42.6, 1026.6), (43.6, 1023.4), (45.2, 1015.3), (46.7, 1010.1),
    (48.8, 1003.6), (50.8, 1009.3), (52.7, 1006.0), (54.4, 1008.9), (56.5, 1007.5), (58.0, 1012.5), (60.1, 1014.9),
    (62.7, 1019.4), (64.7, 1024.8), (67.3, 1021.4), (69.9, 1016.9), (72.0, 1019.2), (73.5, 1020.2), (75.1, 1018.9),
    (76.6, 1022.6), (78.7, 1025.2), (80.7, 1028.4), (83.3, 1027.0), (85.3, 1025.0), (87.4, 1018.5), (88.9, 1009.7),
    (90.5, 1003.2), (92.0, 1001.6), (94.1, 1002.6), (96.2, 1006.5), (98.2, 1014.1), (100.3, 1017.3), (101.8, 1015.3),
    (103.4, 1004.8), (105.4, 1000.8), (107.3, 994.4), (109.0, 997.2), (110.6, 1002.4), (112.1, 1013.7),
    (114.2, 1021.4), (116.2, 1018.5), (118.3, 1011.7), (120.4, 1003.6), (122.9, 997.2), (124.5, 1000.8),
    (126.0, 1006.0), (128.6, 1008.7), (130.2, 1006.5), (132.2, 1011.5), (134.3, 1007.7), (136.3, 1002.4),
    (138.4, 996.0), (140.4, 987.9), (142.5, 983.1), (144.0, 984.5), (145.5, 987.5), (146.8, 994.4),
    (148.4, 1002.4), (150.0, 1009.7), (152.2, 1013.7), (154.8, 1018.5), (156.4, 1015.7), (158.1, 1010.5),
    (159.7, 999.2), (161.3, 993.5), (162.9, 987.9), (164.3, 983.7), (166.1, 987.1), (167.8, 995.2), (169.9, 996.8),
    (172.0, 991.5), (173.7, 993.1), (175.8, 991.5), (178.0, 997.2), (180.1, 1005.2), (182.3, 1002.0),
    (184.9, 1005.2), (187.6, 1012.1), (189.8, 1006.9), (191.9, 1010.5), (194.1, 1013.7), (196.2, 1007.3),
    (198.4, 1000.8), (200.6, 996.0), (202.7, 1001.6), (204.8, 1014.5), (207.0, 1022.2), (208.6, 1016.1),
    (209.7, 1012.9), (211.8, 1010.5), (214.0, 1015.3), (216.1, 1013.7), (218.3, 1011.3), (220.4, 1016.5),
    (223.1, 1015.7), (225.3, 1017.7), (226.9, 1021.8)]
obs_sp_5d_2 = [
    (262.9, 1011.7), (265.1, 1015.3), (267.3, 1015.3), (269.9, 1017.9), (272.1, 1019.8), (274.2, 1012.9),
    (276.4, 1008.9), (278.5, 1009.7), (280.7, 1013.1), (283.4, 1012.5), (285.5, 1016.1), (287.7, 1016.7),
    (290.9, 1012.5), (293.6, 1013.7), (295.7, 1015.7), (297.9, 1018.1)]
era5_sp_5d_gap = [
    (229.0, 1025.0), (231.0, 1021.5), (233.3, 1018.1), (236.6, 1016.1), (239.8, 1009.7), (242.5, 1013.7),
    (245.0, 1016.5), (247.9, 1018.1), (249.5, 1014.9), (251.5, 1010.0), (253.2, 1006.9), (255.4, 1008.9),
    (257.5, 1007.0), (259.2, 1007.7), (261.0, 1009.5)]

# ---------------- legend entries ----------------
legend_names = ["OBS hourly", "OBS 5\u2009d avg", "ERA5 hourly", "ERA5 5\u2009d avg"]

# ---------------- styles ----------------
C_OBS_HR = "#BEBEBE"
C_ERA_HR = "#FFC8C8"
C_OBS_5D = "#000000"
C_ERA_5D = "#FF0000"
BAND = "#EDEDED"
FONT = "Liberation Sans, Arial, Helvetica, sans-serif"
RED_DASH = "22px,20px"

W, H = 1620, 1939
ML, MR, MT, MB = 188, 57, 32, 129
PW, PH = W - ML - MR, H - MT - MB


def fx(px):
    return (px - ML) / PW


def fy(py):
    return (MT + PH - py) / PH


def to_dates(days):
    return [BASE + dt.timedelta(days=float(d)) for d in days]


def daily(start, vals):
    return [start + i for i in range(len(vals))], list(vals)


def pairs(p):
    return [a for a, _ in p], [b for _, b in p]


def combine(*segs):
    xs, ys = [], []
    for k, (d, v) in enumerate(segs):
        if k:
            xs.append((xs[-1] + d[0]) / 2.0)
            ys.append(None)
        xs += list(d)
        ys += list(v)
    return to_dates(xs), ys


fig = go.Figure()


def add_panel(yref, obs_hr, era_hr, obs_5d, era_5d):
    for (x, y), color, width, dash, smooth in [
        (obs_hr, C_OBS_HR, 2.6, None, False),
        (era_hr, C_ERA_HR, 2.6, None, False),
        (obs_5d, C_OBS_5D, 6, None, True),
        (era_5d, C_ERA_5D, 6, RED_DASH, True),
    ]:
        line = dict(color=color, width=width)
        if dash:
            line["dash"] = dash
        if smooth:
            line["shape"] = "spline"
            line["smoothing"] = 0.6
        fig.add_trace(go.Scatter(x=x, y=y, mode="lines", line=line, connectgaps=False,
                                 showlegend=False, xaxis="x", yaxis=yref, hoverinfo="skip"))


add_panel("y",
          combine(daily(obs_ws_hr_start1, obs_ws_hr_1), daily(obs_ws_hr_start2, obs_ws_hr_2)),
          combine(daily(era5_ws_hr_start, era5_ws_hr)),
          combine(daily(obs_ws_5d_start1, obs_ws_5d_1), daily(obs_ws_5d_start2, obs_ws_5d_2)),
          combine(daily(era5_ws_5d_start, era5_ws_5d)))
add_panel("y2",
          combine(daily(obs_t2m_hr_start1, obs_t2m_hr_1), daily(obs_t2m_hr_start2, obs_t2m_hr_2)),
          combine(daily(era5_t2m_hr_start, era5_t2m_hr)),
          combine(pairs(obs_t2m_5d_1), pairs(obs_t2m_5d_2)),
          combine(pairs(era5_t2m_5d)))
era5_sp_5d = sorted(obs_sp_5d_1 + era5_sp_5d_gap + obs_sp_5d_2)
add_panel("y3",
          combine(daily(obs_sp_hr_start1, obs_sp_hr_1), daily(obs_sp_hr_start2, obs_sp_hr_2)),
          combine(daily(era5_sp_hr_start, era5_sp_hr)),
          combine(pairs(obs_sp_5d_1), pairs(obs_sp_5d_2)),
          combine(pairs(era5_sp_5d)))

# ---------------- axes ----------------
x_start = BASE - dt.timedelta(days=12.23)
x_end = dt.datetime(2020, 8, 1)

yaxis_common = dict(
    anchor="x", showline=True, linecolor="black", linewidth=2.7,
    ticks="outside", ticklen=30, tickwidth=2.7, tickcolor="black",
    tickangle=-90, tickfont=dict(family=FONT, size=25, color="black"),
    showgrid=True, gridcolor="#BEBEBE", gridwidth=2, griddash="2.5px,5px",
    zeroline=False, fixedrange=True, ticklabelstandoff=30, automargin=False,
)

fig.update_layout(
    width=W, height=H, autosize=False,
    margin=dict(l=ML, r=MR, t=MT, b=MB, pad=0, autoexpand=False),
    paper_bgcolor="white", plot_bgcolor="rgba(0,0,0,0)",
    font=dict(family=FONT, color="black"),
    showlegend=False,
    xaxis=dict(
        type="date", range=[x_start, x_end], domain=[0, 1], anchor="free", position=0,
        showline=False, showgrid=False, zeroline=False,
        tickmode="array", tickvals=month_starts, ticktext=month_labels,
        ticks="outside", ticklen=30, tickwidth=2.7, tickcolor="black",
        tickfont=dict(family=FONT, size=24.5, color="black"), ticklabelstandoff=10,
        fixedrange=True, automargin=False,
    ),
    yaxis=dict(domain=[fy(602.5), fy(32.3)], range=[0, 25], tickvals=ws_ticks, **yaxis_common),
    yaxis2=dict(domain=[fy(1172.5), fy(654.7)], range=[-40, 10], tickvals=t2m_ticks, **yaxis_common),
    yaxis3=dict(domain=[fy(1742.5), fy(1247.0)], range=[950, 1070], tickvals=sp_ticks, **yaxis_common),
)

# ---------------- shapes ----------------
shapes = []
for a, b in shaded_months:
    shapes.append(dict(type="rect", xref="x", yref="paper", x0=a, x1=b, y0=fy(1803.6), y1=fy(32.3),
                       fillcolor=BAND, line=dict(width=0), layer="below"))
# x axis line from first to last tick (R style)
shapes.append(dict(type="line", xref="x", yref="paper", x0=month_starts[0], x1=month_starts[-1],
                   y0=0, y1=0, line=dict(color="black", width=2.7), layer="above"))
# legend box
shapes.append(dict(type="rect", xref="paper", yref="paper", x0=fx(1216), x1=fx(1564),
                   y0=fy(1229), y1=fy(1019.5), fillcolor="white",
                   line=dict(color="black", width=2.5), layer="above"))
legend_rows = [1063.7, 1105.0, 1146.6, 1188.0]
legend_styles = [("#9E9E9E", 3, "solid"), ("#000000", 6, "solid"), ("#FFC8C8", 3, "solid"),
                 ("#FF0000", 6, RED_DASH)]
for ry, (col, wdt, dsh) in zip(legend_rows, legend_styles):
    shapes.append(dict(type="line", xref="paper", yref="paper", x0=fx(1246), x1=fx(1312),
                       y0=fy(ry), y1=fy(ry), line=dict(color=col, width=wdt, dash=dsh), layer="above"))
fig.update_layout(shapes=shapes)

# ---------------- annotations ----------------
ann = []
for name, ry in zip(legend_names, legend_rows):
    ann.append(dict(text=name, xref="paper", yref="paper", x=fx(1343), y=fy(ry), xanchor="left",
                    yanchor="middle", showarrow=False, font=dict(family=FONT, size=32, color="black")))
for lab, cy in [("(a)", 65.5), ("(b)", 687), ("(c)", 1281)]:
    ann.append(dict(text=lab, xref="paper", yref="paper", x=fx(284), y=fy(cy), xanchor="center",
                    yanchor="middle", showarrow=False, font=dict(family=FONT, size=47, color="black")))
for lab, cy in [("10\u2009m wind speed (m/s)", 344), ("2\u2009m temperature (°C)", 938),
                ("surface pressure (hPa)", 1518)]:
    ann.append(dict(text=lab, xref="paper", yref="paper", x=fx(41), y=fy(cy), xanchor="center",
                    yanchor="middle", textangle=-90, showarrow=False,
                    font=dict(family=FONT, size=41, color="black")))
fig.update_layout(annotations=ann)

fig.write_html("out.html", post_script="document.body.style.margin='0';",
               config={"displayModeBar": False})
